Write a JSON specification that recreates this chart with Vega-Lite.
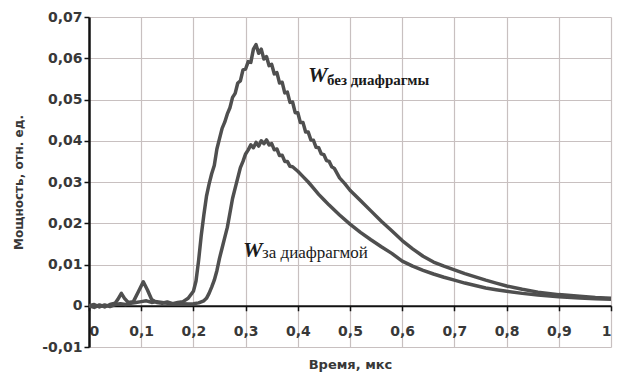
{
  "$schema": "https://vega.github.io/schema/vega-lite/v6.json",
  "width": 522,
  "height": 330,
  "autosize": {"type": "none"},
  "padding": {"left": 89, "top": 17, "right": 10, "bottom": 28},
  "background": "white",
  "config": {
    "view": {"stroke": null},
    "axis": {
      "labelFont": "DejaVu Sans",
      "labelFontWeight": "bold",
      "labelFontSize": 14,
      "labelColor": "#383838",
      "titleFont": "DejaVu Sans",
      "titleFontWeight": "bold",
      "titleFontSize": 13,
      "titleColor": "#383838",
      "grid": true,
      "gridColor": "#c8c0c0",
      "gridWidth": 1.2,
      "gridOpacity": 1,
      "domainColor": "#111111",
      "tickColor": "#111111",
      "tickSize": 5,
      "tickWidth": 1.5
    }
  },
  "datasets": {
    "curves": [
      {"t": 0.0, "v": 0.0, "s": "A"}, {"t": 0.01, "v": -0.0004, "s": "A"}, {"t": 0.02, "v": 0.0002, "s": "A"}, {"t": 0.03, "v": -0.0003, "s": "A"}, {"t": 0.04, "v": 0.0003, "s": "A"}, {"t": 0.05, "v": 0.0006, "s": "A"}, {"t": 0.055, "v": 0.0015, "s": "A"}, {"t": 0.062, "v": 0.003, "s": "A"}, {"t": 0.068, "v": 0.0018, "s": "A"}, {"t": 0.075, "v": 0.0008, "s": "A"}, {"t": 0.085, "v": 0.001, "s": "A"}, {"t": 0.095, "v": 0.0035, "s": "A"}, {"t": 0.104, "v": 0.0058, "s": "A"}, {"t": 0.112, "v": 0.0038, "s": "A"}, {"t": 0.12, "v": 0.0015, "s": "A"}, {"t": 0.13, "v": 0.0008, "s": "A"}, {"t": 0.14, "v": 0.0006, "s": "A"}, {"t": 0.15, "v": 0.0009, "s": "A"}, {"t": 0.16, "v": 0.0005, "s": "A"}, {"t": 0.17, "v": 0.0008, "s": "A"}, {"t": 0.18, "v": 0.001, "s": "A"}, {"t": 0.19, "v": 0.0018, "s": "A"}, {"t": 0.2, "v": 0.0035, "s": "A"}, {"t": 0.205, "v": 0.006, "s": "A"}, {"t": 0.21, "v": 0.011, "s": "A"}, {"t": 0.215, "v": 0.017, "s": "A"}, {"t": 0.22, "v": 0.022, "s": "A"}, {"t": 0.225, "v": 0.0265, "s": "A"}, {"t": 0.23, "v": 0.0295, "s": "A"}, {"t": 0.235, "v": 0.032, "s": "A"}, {"t": 0.24, "v": 0.034, "s": "A"}, {"t": 0.245, "v": 0.038, "s": "A"}, {"t": 0.25, "v": 0.0405, "s": "A"}, {"t": 0.255, "v": 0.043, "s": "A"}, {"t": 0.26, "v": 0.0445, "s": "A"}, {"t": 0.265, "v": 0.0465, "s": "A"}, {"t": 0.27, "v": 0.048, "s": "A"}, {"t": 0.275, "v": 0.0505, "s": "A"}, {"t": 0.28, "v": 0.0515, "s": "A"}, {"t": 0.285, "v": 0.054, "s": "A"}, {"t": 0.29, "v": 0.0545, "s": "A"}, {"t": 0.295, "v": 0.0572, "s": "A"}, {"t": 0.3, "v": 0.0574, "s": "A"}, {"t": 0.305, "v": 0.0592, "s": "A"}, {"t": 0.31, "v": 0.059, "s": "A"}, {"t": 0.315, "v": 0.0622, "s": "A"}, {"t": 0.32, "v": 0.0633, "s": "A"}, {"t": 0.325, "v": 0.0612, "s": "A"}, {"t": 0.33, "v": 0.0622, "s": "A"}, {"t": 0.335, "v": 0.0598, "s": "A"}, {"t": 0.34, "v": 0.0604, "s": "A"}, {"t": 0.345, "v": 0.0582, "s": "A"}, {"t": 0.35, "v": 0.0585, "s": "A"}, {"t": 0.355, "v": 0.0562, "s": "A"}, {"t": 0.36, "v": 0.0565, "s": "A"}, {"t": 0.365, "v": 0.054, "s": "A"}, {"t": 0.37, "v": 0.0542, "s": "A"}, {"t": 0.375, "v": 0.0516, "s": "A"}, {"t": 0.38, "v": 0.0518, "s": "A"}, {"t": 0.385, "v": 0.0493, "s": "A"}, {"t": 0.39, "v": 0.0494, "s": "A"}, {"t": 0.395, "v": 0.0468, "s": "A"}, {"t": 0.4, "v": 0.0468, "s": "A"}, {"t": 0.405, "v": 0.0444, "s": "A"}, {"t": 0.41, "v": 0.0444, "s": "A"}, {"t": 0.415, "v": 0.0421, "s": "A"}, {"t": 0.42, "v": 0.0421, "s": "A"}, {"t": 0.425, "v": 0.0402, "s": "A"}, {"t": 0.43, "v": 0.0401, "s": "A"}, {"t": 0.435, "v": 0.0384, "s": "A"}, {"t": 0.44, "v": 0.0383, "s": "A"}, {"t": 0.445, "v": 0.0368, "s": "A"}, {"t": 0.45, "v": 0.0366, "s": "A"}, {"t": 0.455, "v": 0.0352, "s": "A"}, {"t": 0.46, "v": 0.035, "s": "A"}, {"t": 0.465, "v": 0.0337, "s": "A"}, {"t": 0.47, "v": 0.0333, "s": "A"}, {"t": 0.48, "v": 0.031, "s": "A"}, {"t": 0.49, "v": 0.0296, "s": "A"}, {"t": 0.5, "v": 0.028, "s": "A"}, {"t": 0.52, "v": 0.0255, "s": "A"}, {"t": 0.54, "v": 0.023, "s": "A"}, {"t": 0.56, "v": 0.0205, "s": "A"}, {"t": 0.58, "v": 0.0182, "s": "A"}, {"t": 0.6, "v": 0.0158, "s": "A"}, {"t": 0.62, "v": 0.0138, "s": "A"}, {"t": 0.64, "v": 0.012, "s": "A"}, {"t": 0.66, "v": 0.0106, "s": "A"}, {"t": 0.68, "v": 0.0096, "s": "A"}, {"t": 0.7, "v": 0.0087, "s": "A"}, {"t": 0.72, "v": 0.0078, "s": "A"}, {"t": 0.74, "v": 0.007, "s": "A"}, {"t": 0.76, "v": 0.0062, "s": "A"}, {"t": 0.78, "v": 0.0055, "s": "A"}, {"t": 0.8, "v": 0.0048, "s": "A"}, {"t": 0.83, "v": 0.004, "s": "A"}, {"t": 0.86, "v": 0.0033, "s": "A"}, {"t": 0.9, "v": 0.0027, "s": "A"}, {"t": 0.94, "v": 0.0023, "s": "A"}, {"t": 0.97, "v": 0.002, "s": "A"}, {"t": 1.0, "v": 0.0018, "s": "A"},
      {"t": 0.0, "v": 0.0, "s": "B"}, {"t": 0.01, "v": 0.0003, "s": "B"}, {"t": 0.02, "v": -0.0003, "s": "B"}, {"t": 0.03, "v": 0.0002, "s": "B"}, {"t": 0.04, "v": -0.0002, "s": "B"}, {"t": 0.05, "v": 0.0003, "s": "B"}, {"t": 0.06, "v": 0.0005, "s": "B"}, {"t": 0.07, "v": 0.0003, "s": "B"}, {"t": 0.08, "v": 0.0006, "s": "B"}, {"t": 0.09, "v": 0.0008, "s": "B"}, {"t": 0.1, "v": 0.001, "s": "B"}, {"t": 0.11, "v": 0.0012, "s": "B"}, {"t": 0.12, "v": 0.0008, "s": "B"}, {"t": 0.13, "v": 0.001, "s": "B"}, {"t": 0.14, "v": 0.0008, "s": "B"}, {"t": 0.15, "v": 0.0006, "s": "B"}, {"t": 0.16, "v": 0.0005, "s": "B"}, {"t": 0.17, "v": 0.0004, "s": "B"}, {"t": 0.18, "v": 0.0005, "s": "B"}, {"t": 0.19, "v": 0.0004, "s": "B"}, {"t": 0.2, "v": 0.0005, "s": "B"}, {"t": 0.21, "v": 0.0007, "s": "B"}, {"t": 0.22, "v": 0.0012, "s": "B"}, {"t": 0.225, "v": 0.0018, "s": "B"}, {"t": 0.23, "v": 0.003, "s": "B"}, {"t": 0.235, "v": 0.0045, "s": "B"}, {"t": 0.24, "v": 0.0062, "s": "B"}, {"t": 0.245, "v": 0.0085, "s": "B"}, {"t": 0.25, "v": 0.0115, "s": "B"}, {"t": 0.255, "v": 0.014, "s": "B"}, {"t": 0.26, "v": 0.0165, "s": "B"}, {"t": 0.265, "v": 0.019, "s": "B"}, {"t": 0.27, "v": 0.0225, "s": "B"}, {"t": 0.275, "v": 0.026, "s": "B"}, {"t": 0.28, "v": 0.0285, "s": "B"}, {"t": 0.285, "v": 0.031, "s": "B"}, {"t": 0.29, "v": 0.0335, "s": "B"}, {"t": 0.295, "v": 0.035, "s": "B"}, {"t": 0.3, "v": 0.0368, "s": "B"}, {"t": 0.305, "v": 0.0378, "s": "B"}, {"t": 0.31, "v": 0.039, "s": "B"}, {"t": 0.315, "v": 0.0383, "s": "B"}, {"t": 0.32, "v": 0.0396, "s": "B"}, {"t": 0.325, "v": 0.0387, "s": "B"}, {"t": 0.33, "v": 0.04, "s": "B"}, {"t": 0.335, "v": 0.0393, "s": "B"}, {"t": 0.34, "v": 0.0402, "s": "B"}, {"t": 0.345, "v": 0.039, "s": "B"}, {"t": 0.35, "v": 0.0393, "s": "B"}, {"t": 0.355, "v": 0.0378, "s": "B"}, {"t": 0.36, "v": 0.038, "s": "B"}, {"t": 0.365, "v": 0.0364, "s": "B"}, {"t": 0.37, "v": 0.0365, "s": "B"}, {"t": 0.375, "v": 0.035, "s": "B"}, {"t": 0.38, "v": 0.035, "s": "B"}, {"t": 0.385, "v": 0.0338, "s": "B"}, {"t": 0.39, "v": 0.0337, "s": "B"}, {"t": 0.4, "v": 0.0326, "s": "B"}, {"t": 0.41, "v": 0.0313, "s": "B"}, {"t": 0.42, "v": 0.03, "s": "B"}, {"t": 0.43, "v": 0.0285, "s": "B"}, {"t": 0.44, "v": 0.027, "s": "B"}, {"t": 0.45, "v": 0.0257, "s": "B"}, {"t": 0.46, "v": 0.0244, "s": "B"}, {"t": 0.48, "v": 0.022, "s": "B"}, {"t": 0.5, "v": 0.0198, "s": "B"}, {"t": 0.52, "v": 0.0178, "s": "B"}, {"t": 0.54, "v": 0.016, "s": "B"}, {"t": 0.56, "v": 0.0143, "s": "B"}, {"t": 0.58, "v": 0.0127, "s": "B"}, {"t": 0.6, "v": 0.0108, "s": "B"}, {"t": 0.62, "v": 0.0096, "s": "B"}, {"t": 0.64, "v": 0.0086, "s": "B"}, {"t": 0.66, "v": 0.0077, "s": "B"}, {"t": 0.68, "v": 0.0069, "s": "B"}, {"t": 0.7, "v": 0.0062, "s": "B"}, {"t": 0.72, "v": 0.0055, "s": "B"}, {"t": 0.74, "v": 0.0049, "s": "B"}, {"t": 0.76, "v": 0.0043, "s": "B"}, {"t": 0.78, "v": 0.0039, "s": "B"}, {"t": 0.8, "v": 0.0035, "s": "B"}, {"t": 0.83, "v": 0.003, "s": "B"}, {"t": 0.86, "v": 0.0026, "s": "B"}, {"t": 0.9, "v": 0.0022, "s": "B"}, {"t": 0.94, "v": 0.0019, "s": "B"}, {"t": 0.97, "v": 0.0017, "s": "B"}, {"t": 1.0, "v": 0.0016, "s": "B"}
    ],
    "bigW": [
      {"t": 0.4195, "v": 0.0543, "label": "W"},
      {"t": 0.295, "v": 0.0119, "label": "W"}
    ],
    "subBold": [
      {"t": 0.456, "v": 0.0536, "label": "без диафрагмы"}
    ],
    "subRegular": [
      {"t": 0.3314, "v": 0.0116, "label": "за диафрагмой"}
    ]
  },
  "encoding": {
    "x": {
      "field": "t", "type": "quantitative",
      "scale": {"domain": [0, 1], "nice": false},
      "axis": {
        "title": "Время, мкс",
        "values": [0, 0.1, 0.2, 0.3, 0.4, 0.5, 0.6, 0.7, 0.8, 0.9, 1],
        "labelExpr": "replace(format(datum.value, '.1~f'), '.', ',')",
        "offset": -41.25,
        "domainWidth": 2,
        "labelPadding": 14,
        "titlePadding": 20,
        "grid": true
      }
    },
    "y": {
      "field": "v", "type": "quantitative",
      "scale": {"domain": [-0.01, 0.07], "nice": false},
      "axis": {
        "title": "Мощность, отн. ед.",
        "titleFontSize": 12,
        "values": [-0.01, 0, 0.01, 0.02, 0.03, 0.04, 0.05, 0.06, 0.07],
        "labelExpr": "replace(replace(format(datum.value, '.2~f'), '.', ','), '−', '-')",
        "domainWidth": 2.5,
        "labelPadding": 2,
        "titlePadding": 16,
        "grid": true
      }
    }
  },
  "layer": [
    {
      "data": {"name": "curves"},
      "mark": {"type": "line", "strokeWidth": 3.5, "color": "#4f4f4f", "strokeJoin": "round"},
      "encoding": {"detail": {"field": "s"}}
    },
    {
      "data": {"name": "bigW"},
      "mark": {"type": "text", "font": "Liberation Serif", "fontSize": 22, "fontWeight": "bold", "fontStyle": "italic", "align": "left", "baseline": "alphabetic", "color": "#1a1a1a"},
      "encoding": {"text": {"field": "label"}}
    },
    {
      "data": {"name": "subBold"},
      "mark": {"type": "text", "font": "Liberation Serif", "fontSize": 15, "fontWeight": "bold", "align": "left", "baseline": "alphabetic", "color": "#1a1a1a"},
      "encoding": {"text": {"field": "label"}}
    },
    {
      "data": {"name": "subRegular"},
      "mark": {"type": "text", "font": "Liberation Serif", "fontSize": 17, "align": "left", "baseline": "alphabetic", "color": "#1a1a1a"},
      "encoding": {"text": {"field": "label"}}
    }
  ]
}
